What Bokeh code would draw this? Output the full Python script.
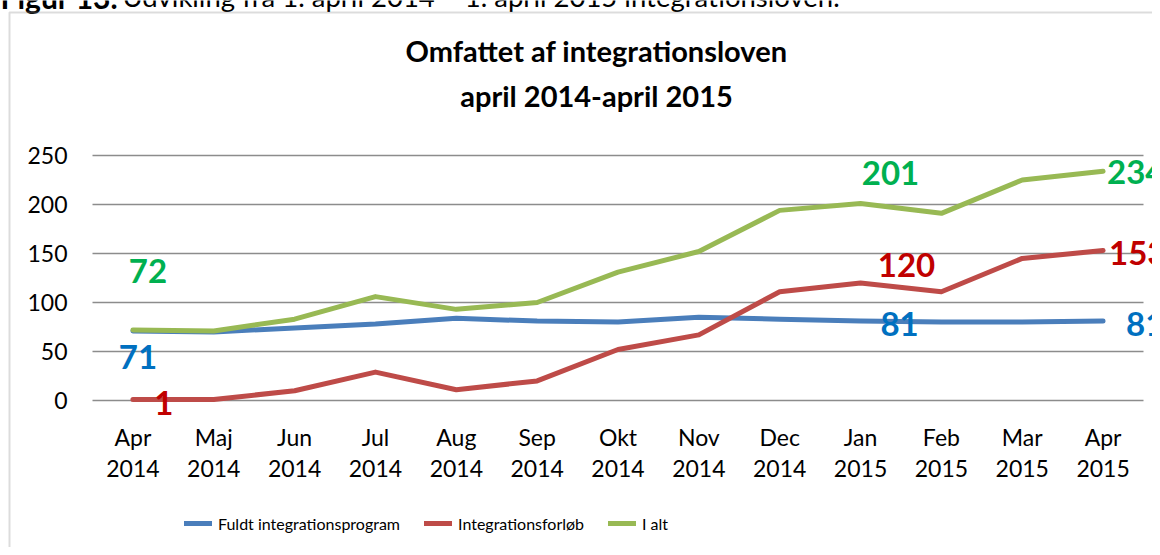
from bokeh.plotting import figure
from bokeh.models import (Range1d, Label, Legend, LegendItem, BoxAnnotation,
                          ColumnDataSource)
from bokeh.embed import file_html
from bokeh.resources import INLINE

months = ["Apr", "Maj", "Jun", "Jul", "Aug", "Sep", "Okt", "Nov", "Dec",
          "Jan", "Feb", "Mar", "Apr"]
years = ["2014"] * 9 + ["2015"] * 4
fuldt = [71, 70, 74, 78, 84, 81, 80, 85, 83, 81, 80, 80, 81]
forloeb = [1, 1, 10, 29, 11, 20, 52, 67, 111, 120, 111, 145, 153]
i_alt = [72, 71, 83, 106, 93, 100, 131, 152, 194, 201, 191, 225, 234]
series_names = ["Fuldt integrationsprogram", "Integrationsforløb", "I alt"]
title_lines = ["Omfattet af integrationsloven", "april 2014-april 2015"]
header_bold = "Figur 13."
header_text = "Udvikling fra 1. april 2014 – 1. april 2015 integrationsloven."
y_ticks = [0, 50, 100, 150, 200, 250]

FONT = "Lato"
W, H = 1152, 547
n = len(months)
x = list(range(n))

# layout (pixels on the canvas): plot area and value axis placement
PLOT_L, PLOT_R = 92, 1143
PY_TOP, PY_ZERO = 155, 400
YMAX = y_ticks[-1]
band = (PLOT_R - PLOT_L) / n
x0_px = PLOT_L + band / 2
ppu = (PY_ZERO - PY_TOP) / YMAX

p = figure(width=W, height=H, output_backend="svg", toolbar_location=None,
           x_range=Range1d(-x0_px / band, (W - x0_px) / band),
           y_range=Range1d(-(H - PY_ZERO) / ppu, PY_ZERO / ppu),
           x_axis_location=None, y_axis_location=None,
           min_border=0, background_fill_color="white", border_fill_color="white")
p.outline_line_color = None
p.grid.visible = False

# horizontal grid lines over the plot area
gsrc = ColumnDataSource(dict(x0=[-0.5] * len(y_ticks), x1=[n - 0.5] * len(y_ticks),
                             y=y_ticks))
p.segment("x0", "y", "x1", "y", source=gsrc, line_color="#8c8c8c", line_width=1.5)

# value axis labels
for t in y_ticks:
    p.add_layout(Label(x=-0.5, y=t, x_offset=-25, text=str(t), text_align="right",
                       text_baseline="middle", text_font=FONT,
                       text_font_size="23px", text_color="#000000"))
# category axis labels
for i, (m, yr) in enumerate(zip(months, years)):
    p.add_layout(Label(x=i, y=0, y_offset=-36, text=m, text_align="center",
                       text_baseline="middle", text_font=FONT,
                       text_font_size="23px", text_color="#000000"))
    p.add_layout(Label(x=i, y=0, y_offset=-68, text=yr, text_align="center",
                       text_baseline="middle", text_font=FONT,
                       text_font_size="23px", text_color="#000000"))

colors = ["#4A7EBB", "#BE4B48", "#98B954"]
renderers = []
for vals, c in zip([fuldt, forloeb, i_alt], colors):
    src = ColumnDataSource(dict(x=x, y=vals))
    r = p.line("x", "y", source=src, line_color=c, line_width=5,
               line_cap="round", line_join="round")
    renderers.append(r)

legend = Legend(items=[LegendItem(label=nm, renderers=[r]) for nm, r in zip(series_names, renderers)],
                orientation="horizontal", location=(184, 14),
                glyph_width=28, glyph_height=20, label_standoff=6, spacing=24,
                padding=0, margin=0, border_line_color=None,
                background_fill_alpha=0, label_text_font=FONT,
                label_text_font_size="16px", label_text_color="#000000")
p.add_layout(legend, "center")

# page caption above the chart (only its lower part is in view)
p.add_layout(Label(x=0, y=H + 4, x_units="screen", y_units="screen", text=header_bold,
                   text_align="left", text_baseline="alphabetic", text_font=FONT,
                   text_font_style="bold", text_font_size="30px", text_color="#000000"))
p.add_layout(Label(x=122, y=H + 4, x_units="screen", y_units="screen", text=header_text,
                   text_align="left", text_baseline="alphabetic", text_font=FONT,
                   text_font_size="27.5px", text_color="#000000"))

# title
for txt, base in zip(title_lines, [50, 95]):
    p.add_layout(Label(x=596, y=H - base, x_units="screen", y_units="screen", text=txt,
                       text_align="center", text_baseline="alphabetic", text_font=FONT,
                       text_font_style="bold", text_font_size="29px", text_color="#000000"))

# data labels
lab_colors = ["#0070C0", "#C00000", "#00B050"]
label_specs = [
    (2, 0, 15, 59, "center"), (0, 0, 5, -26, "center"), (1, 0, 31, -3, "center"),
    (2, 9, 30, 31, "center"), (1, 9, 46, 18, "center"), (0, 9, 39, -3, "center"),
    (2, 12, 4, -1, "left"), (1, 12, 6, -2, "left"), (0, 12, 23, -3, "left"),
]
all_series = [fuldt, forloeb, i_alt]
for s, i, dx, dy, al in label_specs:
    v = all_series[s][i]
    p.add_layout(Label(x=i, y=v, x_offset=dx, y_offset=dy, text=str(v),
                       text_align=al, text_baseline="middle", text_font=FONT,
                       text_font_style="bold", text_font_size="33px",
                       text_color=lab_colors[s]))

# chart border (left and top edges visible)
p.add_layout(BoxAnnotation(left=9, right=W + 50, top=H - 12, bottom=-50,
                           left_units="screen", right_units="screen",
                           top_units="screen", bottom_units="screen",
                           fill_alpha=0, line_color="#8c8c8c", line_width=2))

open("out.html", "w").write(file_html(p, INLINE))
